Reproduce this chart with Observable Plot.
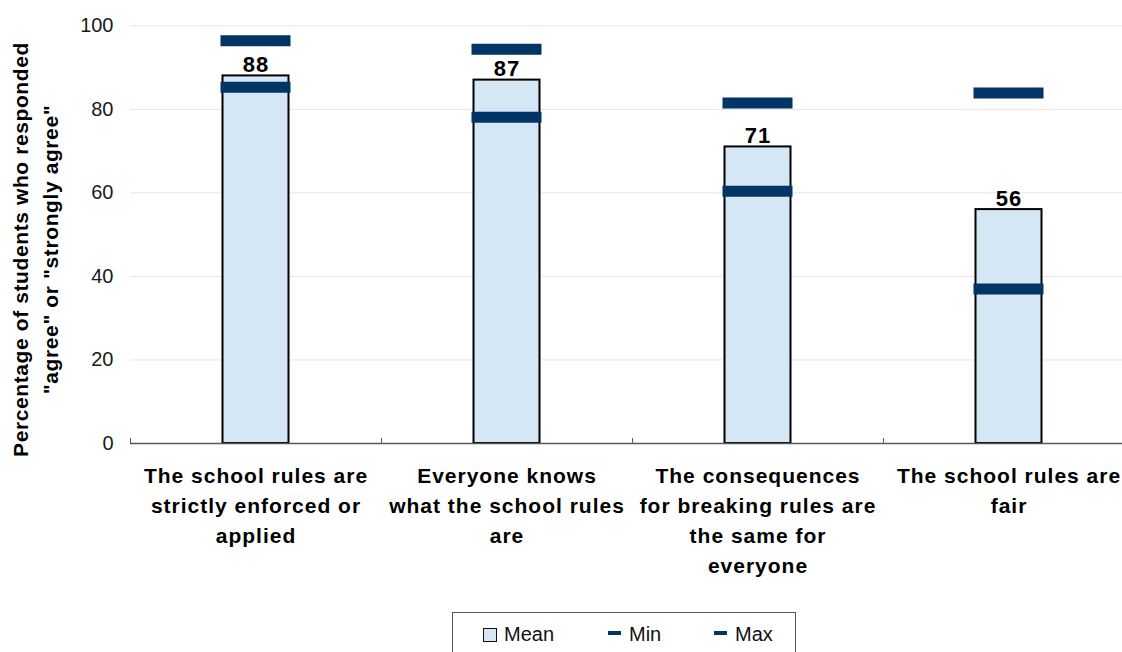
<!DOCTYPE html>
<html>
<head>
<meta charset="utf-8">
<script src="https://cdn.jsdelivr.net/npm/d3@7"></script>
<script src="https://cdn.jsdelivr.net/npm/@observablehq/plot@0.6"></script>
<style>
  body { margin: 0; background: #fff; }
  #chart { position: relative; width: 1122px; height: 652px; overflow: hidden; font-family: "Liberation Sans", Arial, sans-serif; }
  #chart svg { display: block; }
  .cat-label text, g.cat-label { letter-spacing: 1px; }
  .val-label text, g.val-label { letter-spacing: 1px; }
  .y-title text, g.y-title { letter-spacing: 0.6px; }
  .legend { position: absolute; left: 452px; top: 612px; width: 344px; height: 52px; box-sizing: border-box; border: 1px solid #555; background: #fff; }
  .legend .item { position: absolute; top: 10px; font-size: 20px; color: #111; line-height: 22px; white-space: nowrap; }
  .legend .swatch { display: inline-block; width: 12px; height: 12px; border: 1.5px solid #111; background: #d5e6f5; vertical-align: -1px; margin-right: 7px; }
  .legend .dash { display: inline-block; width: 13px; height: 4px; background: #023466; vertical-align: 6px; margin-right: 8px; }
</style>
</head>
<body>
<div id="chart"></div>
<script>
// Categories (x axis), with manual line breaks for the wrapped labels
const categories = [
  "The school rules are\nstrictly enforced or\napplied",
  "Everyone knows\nwhat the school rules\nare",
  "The consequences\nfor breaking rules are\nthe same for\neveryone",
  "The school rules are\nfair"
];
// Percentage of students who responded "agree" or "strongly agree"
const meanValues = [88, 87, 71, 56];
const minValues = [85.3, 78.1, 60.4, 37.0];
const maxValues = [96.4, 94.4, 81.5, 83.9];
const yTicks = [0, 20, 40, 60, 80, 100];
const yTitle = "Percentage of students who responded\n\"agree\" or \"strongly agree\"";
const legendLabels = ["Mean", "Min", "Max"];

const rows = categories.map((category, i) => ({
  category,
  mean: meanValues[i],
  min: minValues[i],
  max: maxValues[i]
}));

const barFill = "#d5e6f5";
const markerColor = "#023466";
const axisColor = "#595959";

const chart = Plot.plot({
  width: 1122,
  height: 605,
  marginLeft: 130,
  marginRight: 0,
  marginTop: 25,
  marginBottom: 162,
  x: { domain: categories, range: [130, 1134], padding: 0, axis: null },
  y: { domain: [0, 100], range: [443, 25.3], axis: null },
  style: { fontFamily: "'Liberation Sans', Arial, sans-serif", background: "#fff", color: "#111", overflow: "visible" },
  marks: [
    // horizontal gridlines
    Plot.ruleY(yTicks.filter(d => d > 0), { stroke: "#e4e4e4", strokeWidth: 1 }),
    // mean bars
    Plot.barY(rows, {
      x: "category", y: "mean",
      fill: barFill, stroke: "#000", strokeWidth: 2,
      insetLeft: 92.5, insetRight: 92.5
    }),
    // min and max markers
    Plot.tickY(rows, { x: "category", y: "min", stroke: markerColor, strokeWidth: 11, insetLeft: 90.5, insetRight: 90.5 }),
    Plot.tickY(rows, { x: "category", y: "max", stroke: markerColor, strokeWidth: 11, insetLeft: 90.5, insetRight: 90.5 }),
    // baseline and category separators
    Plot.ruleY([0], { stroke: axisColor, strokeWidth: 1.5 }),
    Plot.ruleX(categories, { x: d => d, dx: -125.5, y1: 0, y2: 1.2, stroke: axisColor, strokeWidth: 1 }),
    // value labels on the bars
    Plot.text(rows, {
      x: "category", y: "mean", text: d => String(d.mean),
      dy: -4, lineAnchor: "bottom", fontSize: 22, fontWeight: "bold", fill: "#000",
      className: "val-label"
    }),
    // y tick labels
    Plot.axisY(yTicks, { tickSize: 0, tickPadding: 17, fontSize: 20, label: null, fill: "#1a1a1a" }),
    // category labels
    Plot.text(rows, {
      x: "category", y: 0, text: "category",
      lineAnchor: "top", dy: 18.4, lineHeight: 1.43,
      fontSize: 21, fontWeight: "bold", fill: "#000",
      className: "cat-label"
    }),
    // y axis title
    Plot.text([yTitle], {
      frameAnchor: "left", text: d => d, rotate: -90,
      textAnchor: "middle", lineAnchor: "middle",
      dx: -97, dy: 15, lineHeight: 1.43,
      fontSize: 21, fontWeight: "bold", fill: "#000",
      className: "y-title"
    })
  ]
});

const root = document.getElementById("chart");
root.appendChild(chart);

// legend below the plot
const legend = document.createElement("div");
legend.className = "legend";
const offsets = [30, 155, 261];
legendLabels.forEach((label, i) => {
  const item = document.createElement("div");
  item.className = "item";
  item.style.left = offsets[i] + "px";
  const key = document.createElement("span");
  key.className = i === 0 ? "swatch" : "dash";
  item.appendChild(key);
  item.appendChild(document.createTextNode(label));
  legend.appendChild(item);
});
root.appendChild(legend);
</script>
</body>
</html>
